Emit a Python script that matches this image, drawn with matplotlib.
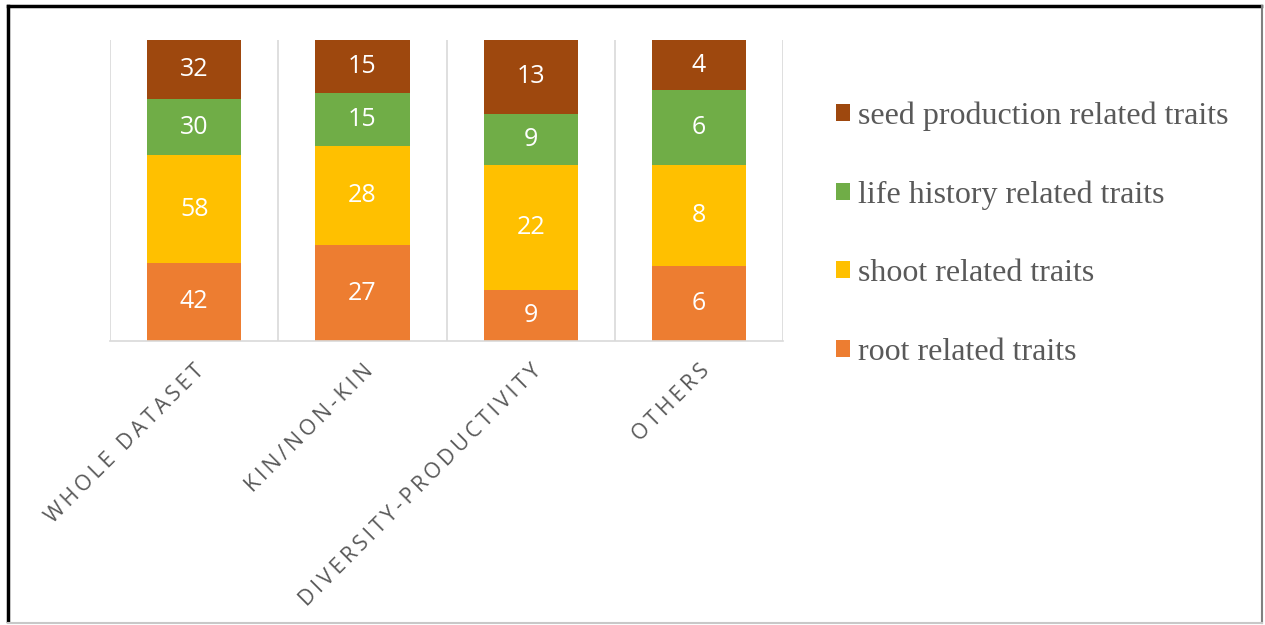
import numpy as np
import matplotlib.pyplot as plt
from matplotlib.patches import Patch
from matplotlib.lines import Line2D

# data (counts per group, drawn as 100 % stacked bars)
groups = ["WHOLE DATASET", "KIN/NON-KIN", "DIVERSITY-PRODUCTIVITY", "OTHERS"]
root = [42, 27, 9, 6]
shoot = [58, 28, 22, 8]
life = [30, 15, 9, 6]
seed = [32, 15, 13, 4]

series = ["root related traits", "shoot related traits",
          "life history related traits", "seed production related traits"]
colors = ["#ED7D31", "#FFC000", "#70AD47", "#9E480E"]

counts = np.array([root, shoot, life, seed], dtype=float)
shares = counts / counts.sum(axis=0)

fig = plt.figure(figsize=(12.65, 6.25), dpi=100)
ax = fig.add_axes([0.087, 0.4544, 0.532, 0.4816])

x = np.arange(len(groups))
bottom = np.zeros(len(groups))
for vals, sh, col, name in zip(counts, shares, colors, series):
    ax.bar(x, sh, 0.56, bottom=bottom, color=col, label=name)
    for xi, b, h, v in zip(x, bottom, sh, vals):
        ax.text(xi, b + h / 2, f"{int(v)}", ha="center", va="center",
                color="white", fontsize=18, family=["Open Sans", "DejaVu Sans"])
    bottom += sh

ax.set_xlim(-0.5, len(groups) - 0.5)
ax.set_ylim(0, 1)
ax.set_yticks([])
for b in np.arange(-0.5, len(groups)):
    ax.axvline(b, color="#d9d9d9", lw=1.2, zorder=0)
for s in ["top", "right", "left"]:
    ax.spines[s].set_visible(False)
ax.spines["bottom"].set_color("#d9d9d9")
ax.spines["bottom"].set_linewidth(1.2)

# letter-spaced category labels
spaced = ["\u2009".join(g) for g in groups]
ax.set_xticks(x)
ax.set_xticklabels(spaced, rotation=45, ha="right", rotation_mode="anchor",
                   color="#595959", fontsize=15.5, family=["Open Sans", "DejaVu Sans"])
ax.tick_params(axis="x", length=0, pad=14)

handles = [Patch(facecolor=c, edgecolor="none") for c in colors][::-1]
fig.legend(handles, series[::-1], loc="upper left", bbox_to_anchor=(0.638, 0.884),
           frameon=False, handlelength=0.45, handleheight=0.45, handletextpad=0.25,
           labelspacing=1.55, prop={"family": "Liberation Serif", "size": 23},
           labelcolor="#595959")

# outer frame of the picture
fig.add_artist(Line2D([0.0065, 0.997], [0.99, 0.99], color="black", lw=2.5,
                      transform=fig.transFigure))
fig.add_artist(Line2D([0.0065, 0.0065], [0.006, 0.99], color="black", lw=2.5,
                      transform=fig.transFigure))
fig.add_artist(Line2D([0.998, 0.998], [0.004, 0.99], color="#808080", lw=1.5,
                      transform=fig.transFigure))
fig.add_artist(Line2D([0.0065, 0.998], [0.004, 0.004], color="#c8c8c8", lw=1.5,
                      transform=fig.transFigure))

fig.savefig("out.png", dpi=100)
